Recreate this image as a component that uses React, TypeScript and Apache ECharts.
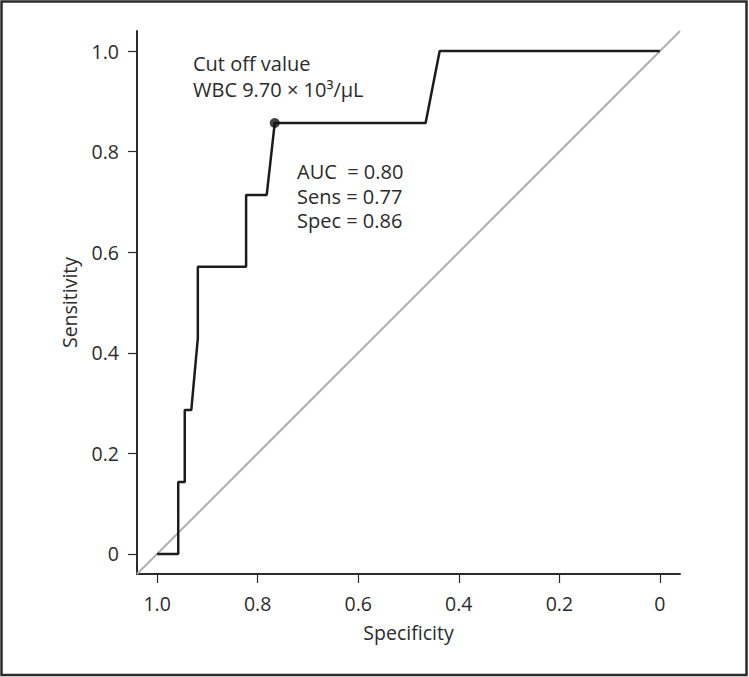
import React, { useEffect, useRef } from "react";
import * as echarts from "echarts";

// ROC curve points (specificity on x, sensitivity on y)
const specificity = [1.0, 0.958, 0.958, 0.945, 0.945, 0.932, 0.919, 0.919, 0.823, 0.823, 0.782, 0.766, 0.466, 0.438, 0.0];
const sensitivity = [0, 0, 0.143, 0.143, 0.286, 0.286, 0.429, 0.571, 0.571, 0.714, 0.714, 0.857, 0.857, 1.0, 1.0];

// Chance diagonal (spanning the full axis range)
const diagonalSpec = [1.04, -0.04];
const diagonalSens = [-0.04, 1.04];

// Cut-off point
const cutoffSpec = 0.766;
const cutoffSens = 0.857;

const tickValues = [0, 0.2, 0.4, 0.6, 0.8, 1.0];
const axisMin = -0.04;
const axisMax = 1.04;

const annotationTitle = "Cut off value";
const annotationWbc = "WBC 9.70 × 10³/μL";
const statsLines = ["AUC  = 0.80", "Sens = 0.77", "Spec = 0.86"];

const FONT = "'Open Sans', 'Noto Sans', sans-serif";
const TEXT_COLOR = "#2b2b2b";

const fmt = (v: number) => (v === 0 ? "0" : v.toFixed(1));

export default function App() {
  const ref = useRef<HTMLDivElement>(null);

  useEffect(() => {
    if (!ref.current) return;
    const chart = echarts.init(ref.current, null, { renderer: "svg" });

    const axisCommon = {
      type: "value" as const,
      min: axisMin,
      max: axisMax,
      nameLocation: "middle" as const,
      nameTextStyle: { fontFamily: FONT, fontSize: 19.5, color: TEXT_COLOR },
      axisLine: { show: true, onZero: false, lineStyle: { color: "#2b2b2b", width: 2 } },
      axisTick: {
        show: true,
        customValues: tickValues,
        length: 9,
        lineStyle: { color: "#2b2b2b", width: 1.2 },
      },
      axisLabel: {
        customValues: tickValues,
        formatter: (v: number) => fmt(v),
        fontFamily: FONT,
        fontSize: 19.5,
        color: TEXT_COLOR,
      },
      splitLine: { show: false },
    };

    const textStyle = (txt: string) => ({
      text: txt,
      fontFamily: FONT,
      fontSize: 20,
      fill: TEXT_COLOR,
      textVerticalAlign: "middle",
      verticalAlign: "middle",
    });

    chart.setOption({
      animation: false,
      backgroundColor: "#ffffff",
      grid: { left: 137, top: 31, width: 543, height: 543 },
      xAxis: {
        ...axisCommon,
        inverse: true,
        name: "Specificity",
        nameGap: 48,
        axisLabel: { ...axisCommon.axisLabel, margin: 19 },
      },
      yAxis: {
        ...axisCommon,
        name: "Sensitivity",
        nameGap: 58,
        axisLabel: { ...axisCommon.axisLabel, margin: 18 },
      },
      series: [
        {
          type: "line",
          data: diagonalSpec.map((x, i) => [x, diagonalSens[i]]),
          symbol: "none",
          silent: true,
          lineStyle: { color: "#b0b0b0", width: 2 },
          z: 1,
        },
        {
          type: "line",
          data: specificity.map((x, i) => [x, sensitivity[i]]),
          symbol: "none",
          silent: true,
          lineStyle: { color: "#1c1c1c", width: 2.5 },
          z: 2,
        },
        {
          type: "scatter",
          data: [[cutoffSpec, cutoffSens]],
          symbol: "circle",
          symbolSize: 10,
          itemStyle: { color: "#111111" },
          silent: true,
          z: 3,
        },
      ],
      graphic: [
        {
          type: "rect",
          shape: { x: 1.5, y: 1.5, width: 745, height: 673.5 },
          style: { fill: "none", stroke: "#2b2b2b", lineWidth: 2.5 },
          silent: true,
        },
        { type: "text", x: 193, y: 63, style: textStyle(annotationTitle) },
        { type: "text", x: 193, y: 89, style: textStyle(annotationWbc) },
        ...statsLines.map((s, i) => ({
          type: "text",
          x: 297,
          y: 171.5 + i * 24.6,
          style: textStyle(s),
        })),
      ],
    });

    return () => chart.dispose();
  }, []);

  return (
    <div
      ref={ref}
      style={{ position: "absolute", left: 0, top: 0, width: 749, height: 677 }}
    />
  );
}
